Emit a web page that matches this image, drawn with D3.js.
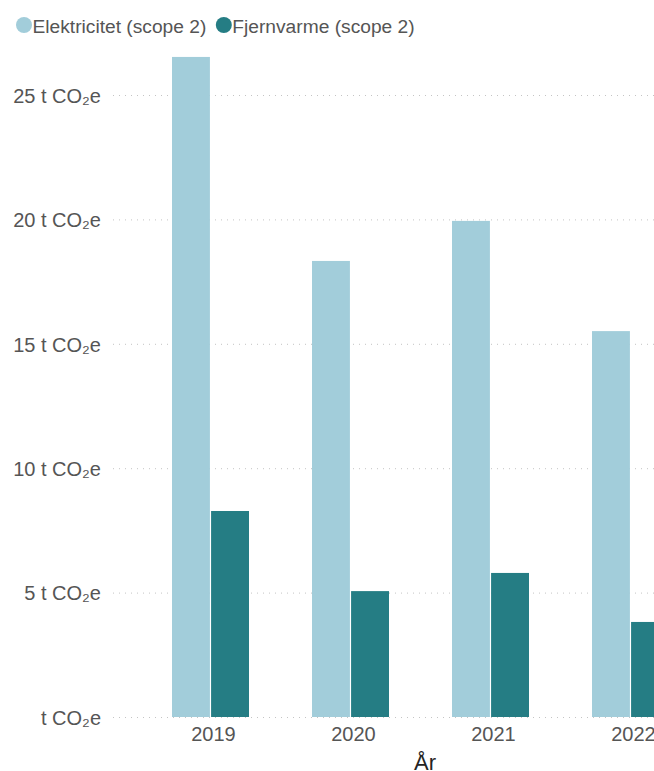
<!DOCTYPE html>
<html><head><meta charset="utf-8">
<script src="https://cdn.jsdelivr.net/npm/d3@7"></script>
<style>body{margin:0;background:#fff;overflow:hidden}svg{display:block;font-family:"Liberation Sans",Arial,sans-serif}</style>
</head><body><svg id="c" width="654" height="771"></svg>
<script>
const years = ["2019","2020","2021","2022"];
const seriesNames = ["Elektricitet (scope 2)","Fjernvarme (scope 2)"];
const elektricitet = [26.53, 18.33, 19.94, 15.51];
const fjernvarme = [8.28, 5.06, 5.79, 3.82];
const yTicks = [0,5,10,15,20,25];
const colors = ["#A2CDDA","#257D84"];

const svg = d3.select("#c");
const x = d3.scaleBand().domain(years).range([140.5,700.5]).paddingInner(0.45).paddingOuter(0.225);
const x1 = d3.scaleBand().domain(seriesNames).range([0,x.bandwidth()]).paddingInner(0.03);
const y = d3.scaleLinear().domain([0,25]).range([717,95]);

// gridlines
svg.append("g").selectAll("line").data(yTicks).join("line")
  .attr("x1",113).attr("x2",654).attr("y1",d=>y(d)+0.5).attr("y2",d=>y(d)+0.5)
  .attr("stroke","#c4c4c4").attr("stroke-width",1).attr("stroke-dasharray","1,5");

// y labels
const yAxis = d3.axisLeft(y).tickValues(yTicks).tickSize(0).tickPadding(0)
  .tickFormat(d => (d===0 ? "" : d+" ") + "t CO\u2082e");
const gy = svg.append("g").attr("transform","translate(101,0)").call(yAxis);
gy.select(".domain").remove();
gy.selectAll("text").attr("fill","#555").attr("font-size",20).attr("dy","0.36em")
  .attr("font-family","'Liberation Sans',Arial,sans-serif");

// bars
const data = years.map((yr,i)=>({yr, vals:[elektricitet[i], fjernvarme[i]]}));
const groups = svg.append("g").selectAll("g").data(data).join("g")
  .attr("transform",d=>`translate(${x(d.yr)},0)`);
groups.selectAll("rect").data(d=>d.vals.map((v,j)=>({v,s:seriesNames[j],j}))).join("rect")
  .attr("x",d=>x1(d.s)).attr("width",x1.bandwidth())
  .attr("y",d=>y(d.v)).attr("height",d=>y(0)-y(d.v))
  .attr("fill",d=>colors[d.j]);

// x axis
const xAxis = d3.axisBottom(x).tickSize(0).tickPadding(0);
const gx = svg.append("g").attr("transform","translate(3,741)").call(xAxis);
gx.select(".domain").remove();
gx.selectAll("text").attr("fill","#555").attr("font-size",20).attr("dy",0)
  .attr("font-family","'Liberation Sans',Arial,sans-serif");

svg.append("text").attr("x",425).attr("y",770).attr("text-anchor","middle")
  .attr("fill","#252423").attr("font-size",22).text("År");

// legend
const leg = svg.append("g");
let lx = 16;
seriesNames.forEach((n,i)=>{
  leg.append("circle").attr("cx",lx+8).attr("cy",25).attr("r",8).attr("fill",colors[i]);
  const t = leg.append("text").attr("x",lx+16.5).attr("y",32.5).attr("font-size",19.2).attr("fill","#555").text(n);
  lx += 16.5 + t.node().getComputedTextLength() + 9.5;
});
</script></body></html>
